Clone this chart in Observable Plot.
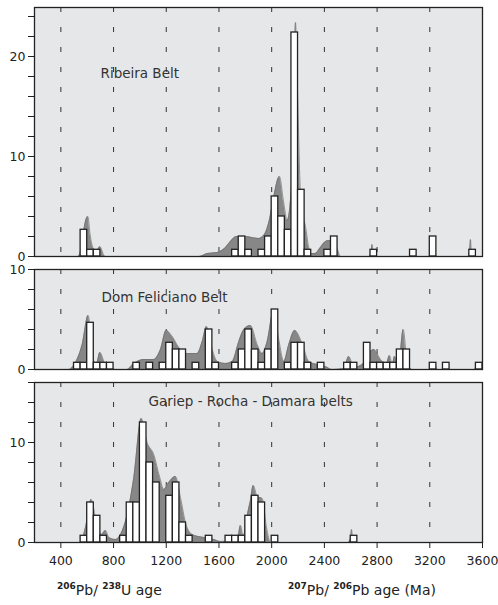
<!DOCTYPE html>
<html><head><meta charset="utf-8">
<script src="https://cdn.jsdelivr.net/npm/d3@7"></script>
<script src="https://cdn.jsdelivr.net/npm/@observablehq/plot@0.6"></script>
<style>
body{margin:0;background:#fff;width:498px;height:605px;overflow:hidden;font-family:"DejaVu Sans",sans-serif;}
#wrap{position:relative;width:498px;height:605px;}
.panel{position:absolute;left:0;}
.atitle{position:absolute;font-size:14px;color:#222;white-space:nowrap;}
.atitle b{font-size:9px;vertical-align:6px;}
</style></head><body><div id="wrap"></div>
<script>
// ---- data ----
const binWidth = 50;
const xTicks = [400,800,1200,1600,2000,2400,2800,3200,3600];
const dashAges = [400,800,1200,1600,2000,2400,2800,3200];

const ribeiraBins   = [550,600,650,1700,1750,1800,1900,1950,2000,2050,2100,2150,2200,2250,2400,2450,2750,3050,3200,3500];
const ribeiraCounts = [2.67,0.67,0.67,0.67,2,0.67,0.67,2,6,4,2.67,22.4,6.67,0.67,0.67,2,0.67,0.67,2,0.67];
const ribeiraDensAge = [200,530,545,565,585,605,622,640,660,680,696,712,726,740,1450,1511,1587,1650,1687,1733,1800,1850,1900,1945,1980,2016,2059,2090,2118,2150,2168,2181,2195,2219,2240,2257,2280,2300,2330,2370,2400,2430,2465,2497,2522,2740,2755,2762,2770,2785,3055,3075,3095,3200,3225,3250,3490,3503,3509,3515,3530,3600];
const ribeiraDensVal = [0,0,0.3,1.8,3.4,4.0,2.2,1.0,0.6,0.7,1.0,0.6,0.1,0,0,0.3,0.4,0.9,1.5,2.0,2.0,1.9,1.8,2.2,3.5,6.0,8.0,5.5,3.6,7.0,16,23.4,17,6.2,4.0,3.0,1.0,0.3,0.3,0.9,1.4,1.6,1.5,0.8,0,0,0.4,1.2,0.3,0,0,0.6,0,0,1.5,0,0,0.6,1.7,0.5,0,0];

const domBins   = [500,550,600,650,700,750,950,1050,1150,1200,1250,1300,1400,1500,1550,1700,1750,1800,1850,1900,1950,2000,2100,2150,2200,2250,2350,2550,2600,2700,2750,2800,2850,2900,2950,3000,3200,3300,3550];
const domCounts = [0.67,0.67,4.67,0.67,0.67,0.67,0.67,0.67,0.67,2.67,2,2,0.67,4,0.67,0.67,2,4,2,0.67,2,6,0.67,2.67,2.67,0.67,0.67,0.67,0.67,2.67,0.67,0.67,0.67,0.67,2,2,0.67,0.67,0.67];
const domDensAge = [200,460,511,562,607,645,671,696,731,777,815,903,954,1030,1105,1156,1199,1245,1295,1359,1435,1473,1505,1549,1587,1650,1700,1751,1789,1839,1890,1928,1966,2016,2054,2092,2130,2175,2231,2282,2345,2408,2459,2547,2585,2623,2687,2737,2775,2826,2869,2894,2915,2932,2965,2998,3028,3066,3200,3230,3260,3300,3319,3340,3540,3560,3580,3600];
const domDensVal = [0,0,0.7,2.5,5.4,1.0,0.6,1.7,0.7,0.2,0,0,0.6,1.0,1.0,2.0,3.9,3.3,2.2,1.6,1.6,2.8,4.3,2.0,0.8,0.6,0.8,2.8,4.0,4.4,2.5,1.6,2.8,6.0,3.0,0.8,2.5,3.9,2.6,0.8,0.5,0.3,0,0.1,1.3,0.2,0.5,1.6,2.0,1.0,0.5,1.4,0.5,1.3,0.6,4.0,0.8,0,0,0.6,0,0,0.6,0,0,0.6,0,0];

const gariepBins   = [550,600,650,700,850,900,950,1000,1050,1100,1200,1250,1300,1350,1500,1650,1700,1750,1800,1850,1900,2000,2600];
const gariepCounts = [0.67,4,2.67,0.67,0.67,4,4,12,8,6,4.67,6,2,0.67,0.67,0.67,0.67,0.67,2.67,4.67,4,0.67,0.67];
const gariepDensAge = [200,549,587,630,670,708,739,764,815,853,898,954,1010,1055,1105,1151,1181,1219,1270,1308,1346,1397,1485,1561,1612,1688,1743,1763,1784,1819,1839,1860,1890,1928,1961,1991,2580,2600,2606,2615,2635,3600];
const gariepDensVal = [0,0,1.5,4.3,2.0,0.8,1.2,0.5,0.3,0.8,2.5,6.5,12.4,10.0,8.8,6.5,5.3,6.0,6.6,4.5,2.0,0.8,0.5,0.3,0.1,0.2,0.5,1.7,0.6,3.0,4.2,5.7,4.6,4.4,1.5,0,0,0.5,1.3,0.3,0,0];

// ---- drawing ----
const wrap = document.getElementById("wrap");

function panel(o) {
  const bars = o.bins.map((b, i) => ({x1: b, x2: b + binWidth, y: o.counts[i]}));
  const dens = o.densAge.map((a, i) => ({x: a, y: o.densVal[i]}));
  const yTicks = d3.range(0, o.ymax + 0.01, 2);
  const plot = Plot.plot({
    width: 498,
    height: o.marginTop + o.plotH + o.marginBottom,
    marginLeft: 34, marginRight: 16, marginTop: o.marginTop, marginBottom: o.marginBottom,
    style: {fontFamily: "DejaVu Sans, sans-serif", fontSize: "12.5px", background: "transparent", overflow: "visible", color: "#222"},
    x: {domain: [200, 3600], axis: o.xAxis ? "bottom" : null, ticks: xTicks, tickSize: 6, tickPadding: 8, tickFormat: d => String(d), label: null},
    y: {domain: [0, o.ymax], ticks: yTicks, tickSize: 6, tickPadding: 3, tickFormat: d => (d % 10 === 0 ? String(d) : ""), label: null},
    marks: [
      Plot.frame({fill: "#e6e7e8", stroke: null}),
      Plot.ruleX(dashAges, {stroke: "#333", strokeWidth: 1, strokeDasharray: "5,15"}),
      Plot.areaY(dens, {x: "x", y: "y", fill: "#878787", curve: "monotone-x"}),
      Plot.lineY(dens, {x: "x", y: "y", stroke: "#6e6e6e", strokeWidth: 0.7, curve: "monotone-x"}),
      Plot.rectY(bars, {x1: "x1", x2: "x2", y: "y", fill: "#fff", stroke: "#222", strokeWidth: 1.3}),
      Plot.text([o.label], {frameAnchor: "top-left", dx: o.labelDx, dy: o.labelDy, textAnchor: "start", lineAnchor: "middle", fontSize: 13.5, fill: "#333"}),
      Plot.frame({stroke: "#222", strokeWidth: 1.3})
    ]
  });
  plot.classList.add("panel");
  plot.style.top = o.top + "px";
  plot.style.position = "absolute";
  wrap.appendChild(plot);
}

panel({bins: ribeiraBins, counts: ribeiraCounts, densAge: ribeiraDensAge, densVal: ribeiraDensVal,
  ymax: 24.9, plotH: 249, top: 0, marginTop: 7, marginBottom: 6, xAxis: false,
  label: "Ribeira Belt", labelDx: 66, labelDy: 66});
panel({bins: domBins, counts: domCounts, densAge: domDensAge, densVal: domDensVal,
  ymax: 10, plotH: 100, top: 255, marginTop: 14, marginBottom: 6, xAxis: false,
  label: "Dom Feliciano Belt", labelDx: 67, labelDy: 28});
panel({bins: gariepBins, counts: gariepCounts, densAge: gariepDensAge, densVal: gariepDensVal,
  ymax: 16, plotH: 160, top: 375, marginTop: 7, marginBottom: 40, xAxis: true,
  label: "Gariep - Rocha - Damara belts", labelDx: 114, labelDy: 19});

const t1 = document.createElement("div");
t1.className = "atitle"; t1.style.left = "57px"; t1.style.top = "581px";
t1.innerHTML = "<b>206</b>Pb/ <b>238</b>U age";
wrap.appendChild(t1);
const t2 = document.createElement("div");
t2.className = "atitle"; t2.style.left = "288px"; t2.style.top = "581px";
t2.innerHTML = "<b>207</b>Pb/ <b>206</b>Pb age (Ma)";
wrap.appendChild(t2);
</script></body></html>
